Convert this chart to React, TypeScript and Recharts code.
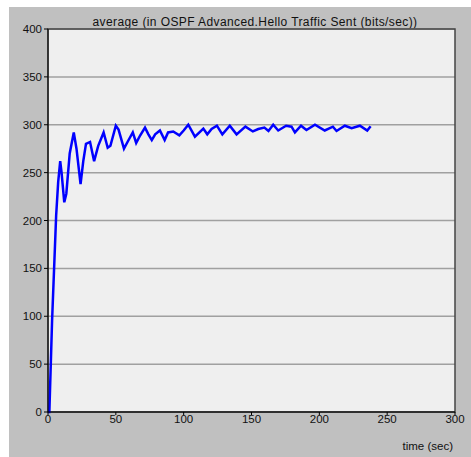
import { LineChart, Line, XAxis, YAxis, CartesianGrid, ReferenceArea } from "recharts";

// time (sec) and average hello traffic (bits/sec)
const times = [
  0, 1, 3, 6, 7.5, 9, 10, 12, 13.5, 16, 19, 21, 24, 26, 28, 31, 34, 37, 41, 44, 46, 50, 52, 56,
  59, 62.5, 65, 68, 71.5, 74, 76.5, 79, 82.5, 86, 88.5, 92.3, 96.8, 100, 103.4, 108.3, 114.5,
  117.4, 120.6, 124.5, 128.5, 134, 139, 145.5, 151, 155, 159.5, 162.5, 166, 169.7, 175.5, 179.5,
  182, 186.5, 190.5, 196.8, 204, 210, 212.7, 218.8, 223.8, 229.9, 235.3, 237.8,
];
const values = [
  0, 0, 95, 205, 240, 262, 250, 219, 228, 270, 292, 275, 238, 262, 280, 282, 262, 278, 292, 276,
  278, 299, 295, 275, 283, 292, 281, 289, 297, 290, 284, 290, 294, 284, 292, 293, 289, 294, 300,
  287.5, 296, 290, 295.5, 299, 290, 299, 290, 298, 293, 295.5, 297, 293.5, 300, 294, 299, 298,
  292, 299, 294.5, 300, 294, 298, 293.5, 299, 296.5, 299, 294, 298.5,
];
const xTicks = [0, 50, 100, 150, 200, 250, 300];
const yTicks = [0, 50, 100, 150, 200, 250, 300, 350, 400];

const data = times.map((t, i) => ({ time: t, avg: values[i] }));

const font = "'Liberation Sans', Arial, sans-serif";

export default function App() {
  return (
    <div
      style={{
        position: "absolute",
        left: 9,
        top: 7,
        width: 462,
        height: 450,
        background: "#c0c0c0",
        fontFamily: font,
      }}
    >
      <div
        style={{
          position: "absolute",
          top: 8,
          left: 39,
          width: 414,
          textAlign: "center",
          fontSize: 12,
          letterSpacing: 0.4,
          color: "#111",
        }}
      >
        average (in OSPF Advanced.Hello Traffic Sent (bits/sec))
      </div>
      <LineChart
        width={462}
        height={450}
        data={data}
        margin={{ top: 22, right: 16, bottom: 0, left: 0 }}
      >
        <CartesianGrid
          vertical={false}
          stroke="#a0a0a0"
          strokeWidth={1.5}
          fill="#efefef"
        />
        <XAxis
          type="number"
          dataKey="time"
          domain={[0, 300]}
          ticks={xTicks}
          height={45}
          tickSize={3}
          tickMargin={0}
          stroke="#000"
          tick={{ fill: "#111", fontSize: 11.5, fontFamily: font }}
        />
        <YAxis
          type="number"
          domain={[0, 400]}
          ticks={yTicks}
          width={39}
          tickSize={4}
          tickMargin={2}
          stroke="#000"
          tick={{ fill: "#111", fontSize: 11.5, fontFamily: font }}
        />
        <ReferenceArea x1={0} x2={300} y1={0} y2={400} fill="none" stroke="#444" strokeWidth={1.5} />
        <Line
          type="linear"
          dataKey="avg"
          stroke="#0000ff"
          strokeWidth={2.5}
          dot={false}
          isAnimationActive={false}
        />
      </LineChart>
      <div
        style={{
          position: "absolute",
          right: 18,
          top: 433,
          fontSize: 11.5,
          color: "#111",
        }}
      >
        time (sec)
      </div>
    </div>
  );
}
